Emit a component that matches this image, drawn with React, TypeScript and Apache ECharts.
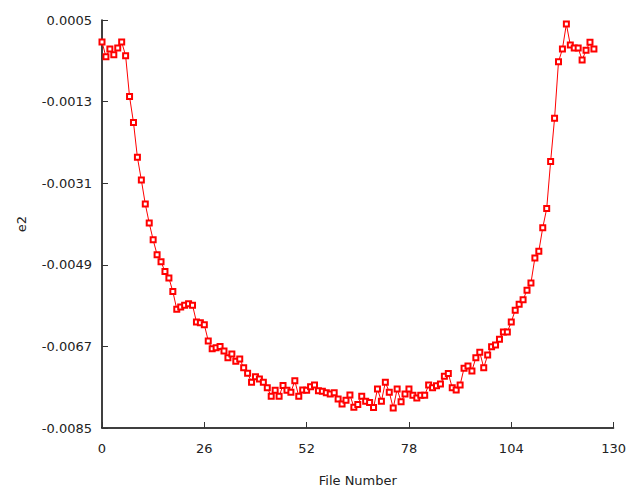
import React, { useEffect, useRef } from "react";
import * as echarts from "echarts";

const fileNumbers: number[] = Array.from({ length: 126 }, (_, i) => i);
const e2Values: number[] = [
  0.000017, -0.000312, -0.000137, -0.000268, -0.000115, 0.000017, -0.00029, -0.00119, -0.00176, -0.00253,
  -0.00303, -0.00356, -0.00398, -0.00435, -0.00468, -0.00483, -0.00505, -0.00519, -0.00549, -0.00588,
  -0.00583, -0.00579, -0.00576, -0.00579, -0.00616, -0.00618, -0.00622, -0.00658, -0.00675, -0.00673,
  -0.0067, -0.0068, -0.00695, -0.00687, -0.00703, -0.00698, -0.00717, -0.00729, -0.00749, -0.00737,
  -0.00742, -0.00749, -0.00761, -0.0078, -0.00767, -0.0078, -0.00756, -0.00767, -0.00771, -0.00746,
  -0.0078, -0.00766, -0.00767, -0.00759, -0.00755, -0.00768, -0.00769, -0.00772, -0.00775, -0.00772,
  -0.00786, -0.00797, -0.00789, -0.00777, -0.00804, -0.00798, -0.0078, -0.00791, -0.00794, -0.00805,
  -0.00764, -0.00791, -0.00749, -0.00771, -0.00806, -0.00764, -0.00792, -0.00775, -0.00764, -0.00778,
  -0.00784, -0.00778, -0.00778, -0.00755, -0.00761, -0.00757, -0.00753, -0.00736, -0.0073, -0.00761,
  -0.00766, -0.00755, -0.00718, -0.00713, -0.00724, -0.00695, -0.00683, -0.00717, -0.00689, -0.00671,
  -0.00667, -0.00654, -0.00638, -0.00638, -0.00616, -0.0059, -0.00577, -0.00567, -0.00546, -0.0053,
  -0.00475, -0.0046, -0.00408, -0.00366, -0.00262, -0.00167, -0.00042, -0.00014, 0.00041, -0.00005,
  -0.00012, -0.00012, -0.00038, -0.00017, 0.00001, -0.00014,
];
const xTicks = { min: 0, max: 130, interval: 26 };
const yTicks = { min: -0.0085, max: 0.0005, interval: 0.0018 };

export default function App() {
  const ref = useRef<HTMLDivElement>(null);
  useEffect(() => {
    if (!ref.current) return;
    const chart = echarts.init(ref.current, undefined, { renderer: "svg" });
    const font = "DejaVu Sans";
    chart.setOption({
      animation: false,
      backgroundColor: "#ffffff",
      textStyle: { fontFamily: font },
      grid: { left: 102, right: 15, top: 20, bottom: 62 },
      xAxis: {
        type: "value",
        min: xTicks.min,
        max: xTicks.max,
        interval: xTicks.interval,
        name: "File Number",
        nameLocation: "middle",
        nameGap: 46,
        nameTextStyle: { color: "#222", fontSize: 13, fontFamily: font },
        axisLine: { onZero: false, lineStyle: { color: "#000", width: 1.5 } },
        axisTick: { inside: true, length: 6, lineStyle: { color: "#333" } },
        axisLabel: { color: "#222", fontSize: 13, margin: 14, fontFamily: font },
        splitLine: { show: false },
      },
      yAxis: {
        type: "value",
        min: yTicks.min,
        max: yTicks.max,
        interval: yTicks.interval,
        name: "e2",
        nameLocation: "middle",
        nameGap: 74,
        nameRotate: 90,
        nameTextStyle: { color: "#222", fontSize: 13, fontFamily: font },
        axisLine: { show: true, onZero: false, lineStyle: { color: "#000", width: 1.5 } },
        axisTick: { show: true, inside: true, length: 6, lineStyle: { color: "#333" } },
        axisLabel: {
          color: "#222",
          fontSize: 13,
          margin: 10,
          fontFamily: font,
          formatter: (v: number) => v.toFixed(4),
        },
        splitLine: { show: false },
      },
      series: [
        {
          type: "line",
          data: fileNumbers.map((x, i) => [x, e2Values[i]]),
          symbol: "emptyRect",
          symbolSize: 5,
          showAllSymbol: true,
          lineStyle: { color: "#ff0000", width: 1 },
          itemStyle: { color: "#ff0000", borderWidth: 1 },
        },
      ],
    });
    return () => chart.dispose();
  }, []);
  return (
    <div
      ref={ref}
      style={{ position: "fixed", left: 0, top: 0, width: 629, height: 492 }}
    />
  );
}
